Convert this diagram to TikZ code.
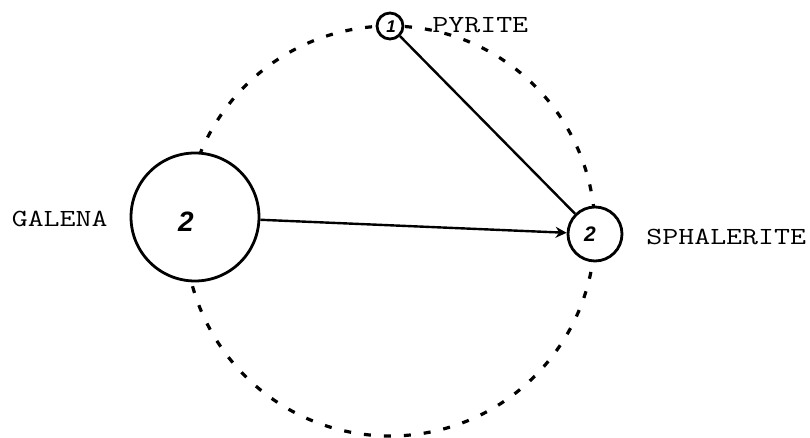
\documentclass[tikz,border=0pt]{standalone}
\usepackage{fontspec}
\newfontfamily\digitfont{Liberation Sans}
\usetikzlibrary{arrows.meta}
\tikzset{
  mineral/.style={circle, draw, line width=1.4pt, fill=white, inner sep=0pt},
  label/.style={inner sep=0pt, font=\ttfamily\fontsize{12.3}{14}\selectfont},
  count/.style={inner sep=0pt, font=\digitfont\bfseries\itshape},
  link/.style={line width=1.2pt},
  orbit/.style={line width=1.6pt, dash pattern=on 3.5pt off 6.5pt},
}
\newcommand{\wide}[1]{\scalebox{1.26}[1]{#1}}
\begin{document}
\begin{tikzpicture}[x=0.5pt,y=-0.5pt]
\useasboundingbox (0,0) rectangle (810,438);
\draw[orbit] (390,231) circle[radius=102.5pt];
\node[mineral, minimum size=64pt] (gal) at (195,217) {};
\node[mineral, minimum size=27pt] (sph) at (595,234) {};
\node[mineral, minimum size=13pt] (pyr) at (390,26) {};
\node[count, font=\digitfont\bfseries\itshape\fontsize{14}{16}\selectfont] (galn) at (186,222) {2};
\node[count, font=\digitfont\bfseries\itshape\fontsize{10.5}{12}\selectfont] (sphn) at (590,234) {2};
\node[count, font=\digitfont\bfseries\itshape\fontsize{8.5}{10}\selectfont] (pyrn) at (391,27) {1};
\draw[link] (pyr) -- (sph);
\draw[link, -{Stealth[length=5.5pt, width=5.5pt]}] (gal) -- (sph);
\node[label, anchor=east] (galt) at (108,219) {\wide{GALENA}};
\node[label, anchor=west] (spht) at (646,237) {\wide{SPHALERITE}};
\node[label, anchor=west] (pyrt) at (432,25) {\wide{PYRITE}};
\end{tikzpicture}
\end{document}
